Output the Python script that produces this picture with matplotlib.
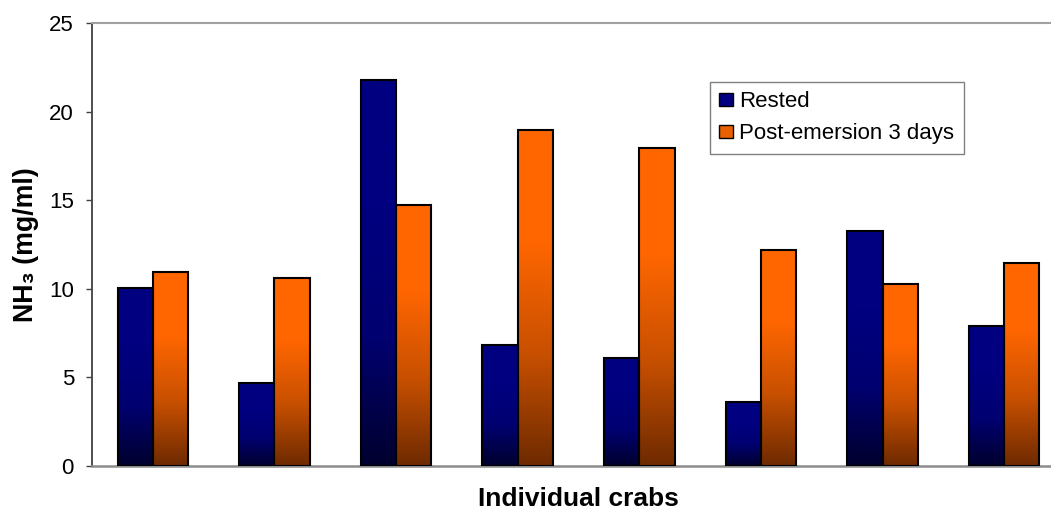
import numpy as np
import matplotlib
matplotlib.use('Agg')
import matplotlib.pyplot as plt
from matplotlib.colors import LinearSegmentedColormap
from matplotlib.patches import Patch

plt.rcParams['font.family'] = ['Liberation Sans', 'DejaVu Sans']

# data
crabs = ['1', '2', '3', '4', '5', '6', '7', '8']
rested = [10.05, 4.68, 21.8, 6.83, 6.08, 3.63, 13.28, 7.88]
post_emersion = [10.95, 10.6, 14.75, 18.98, 17.93, 12.21, 10.29, 11.46]

series_names = ['Rested', 'Post-emersion 3 days']

blue_cmap = LinearSegmentedColormap.from_list('blue', ['#00002e', '#000070', '#000080', '#000080'])
orange_cmap = LinearSegmentedColormap.from_list('orange', ['#6e2a00', '#c85000', '#ff6600', '#ff6600'])

fig = plt.figure(figsize=(10.51, 5.13), dpi=100)
ax = fig.add_axes([92 / 1051, 47 / 513, 973 / 1051, 443 / 513])

x = np.arange(len(crabs))
w = 0.29
grad = np.linspace(0, 1, 256).reshape(-1, 1)

for vals, off, cmap in [(rested, -w / 2, blue_cmap), (post_emersion, w / 2, orange_cmap)]:
    bars = ax.bar(x + off, vals, width=w, facecolor='none', edgecolor='black',
                  linewidth=1.5, zorder=3)
    for b in bars:
        x0, y0 = b.get_x(), b.get_y()
        x1, y1 = x0 + b.get_width(), y0 + b.get_height()
        im = ax.imshow(grad, cmap=cmap, origin='lower', aspect='auto',
                       extent=[x0, x1, y0, y1], zorder=2, interpolation='bilinear')
        im.set_clip_path(b)

ax.set_xlim(-0.5, len(crabs) - 0.5)
ax.set_ylim(0, 25)
ax.set_yticks(range(0, 26, 5))
ax.set_xticks([])
ax.tick_params(axis='y', direction='out', length=4, width=1, color='#404040',
               labelsize=16, pad=9)

ax.spines['left'].set_color('#404040')
ax.spines['left'].set_linewidth(1.3)
ax.spines['bottom'].set_color('#8c8c8c')
ax.spines['bottom'].set_linewidth(1.8)
ax.spines['top'].set_color('#a0a0a0')
ax.spines['top'].set_linewidth(1.5)
ax.spines['right'].set_visible(False)

ax.set_ylabel('NH\u2083 (mg/ml)', fontsize=19.3, fontweight='bold', labelpad=7)
ax.set_xlabel('Individual crabs', fontsize=19, fontweight='bold', labelpad=15)

handles = [Patch(facecolor='#000080', edgecolor='black', linewidth=1),
           Patch(facecolor='#e86000', edgecolor='black', linewidth=1)]
leg = ax.legend(handles, series_names, loc='upper left', bbox_to_anchor=(0.635, 0.867),
                borderaxespad=0, fontsize=16, frameon=True, fancybox=False,
                edgecolor='#606060', handlelength=0.6, handleheight=0.55,
                handletextpad=0.3, labelspacing=0.5, borderpad=0.42)
leg.get_frame().set_linewidth(1)

fig.savefig('out.png', dpi=100)
